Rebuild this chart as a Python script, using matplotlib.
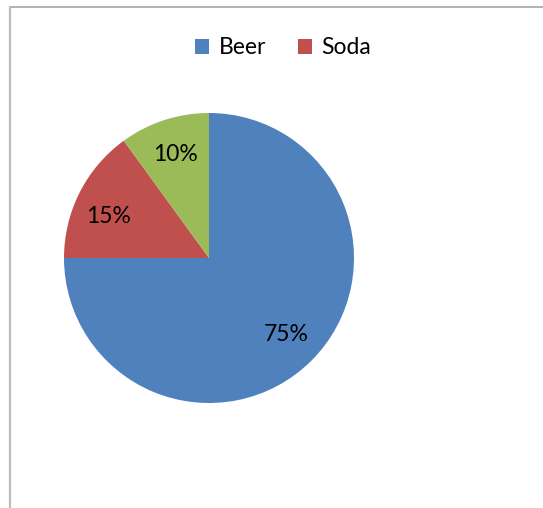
import matplotlib.pyplot as plt
from matplotlib.patches import Patch
from matplotlib.lines import Line2D

# drink shares
drinks = ["Beer", "Soda", "Water"]
shares = [75, 15, 10]
colors = ["#4F81BD", "#C0504D", "#9BBB59"]

plt.rcParams["font.family"] = ["Lato", "DejaVu Sans"]

W, H = 543, 508
fig = plt.figure(figsize=(W / 100, H / 100), dpi=100)

# chart frame (cut off at right and bottom)
fig.add_artist(Line2D([9.5 / W, 1.0], [1 - 7 / H, 1 - 7 / H], color="#A6A6A6", lw=1.2))
fig.add_artist(Line2D([9.5 / W, 9.5 / W], [1 - 7 / H, 0.0], color="#BDBDBD", lw=1.6))

cx, cy, r = 209, 258, 145
ax = fig.add_axes([(cx - r) / W, (H - cy - r) / H, 2 * r / W, 2 * r / H])
wedges, texts, autotexts = ax.pie(
    shares, colors=colors, startangle=90, counterclock=False,
    autopct="%d%%", pctdistance=0.75, radius=1.0,
    wedgeprops=dict(linewidth=0),
    textprops=dict(fontsize=16.5, color="black"),
)
# nudge the soda label toward the middle of its slice
autotexts[1].set_position((-0.69, 0.285))
ax.set_xlim(-1, 1)
ax.set_ylim(-1, 1)
ax.set_aspect("equal")
ax.axis("off")

# legend only shows the first two entries
handles = [Patch(facecolor=colors[i], edgecolor="none") for i in range(2)]
fig.legend(handles, drinks[:2], loc="center", bbox_to_anchor=(283 / W, 1 - 48 / H),
           ncol=2, frameon=False, fontsize=16.5, handlelength=0.6, handleheight=0.6,
           handletextpad=0.4, columnspacing=1.4)

fig.savefig("out.png", dpi=100)
